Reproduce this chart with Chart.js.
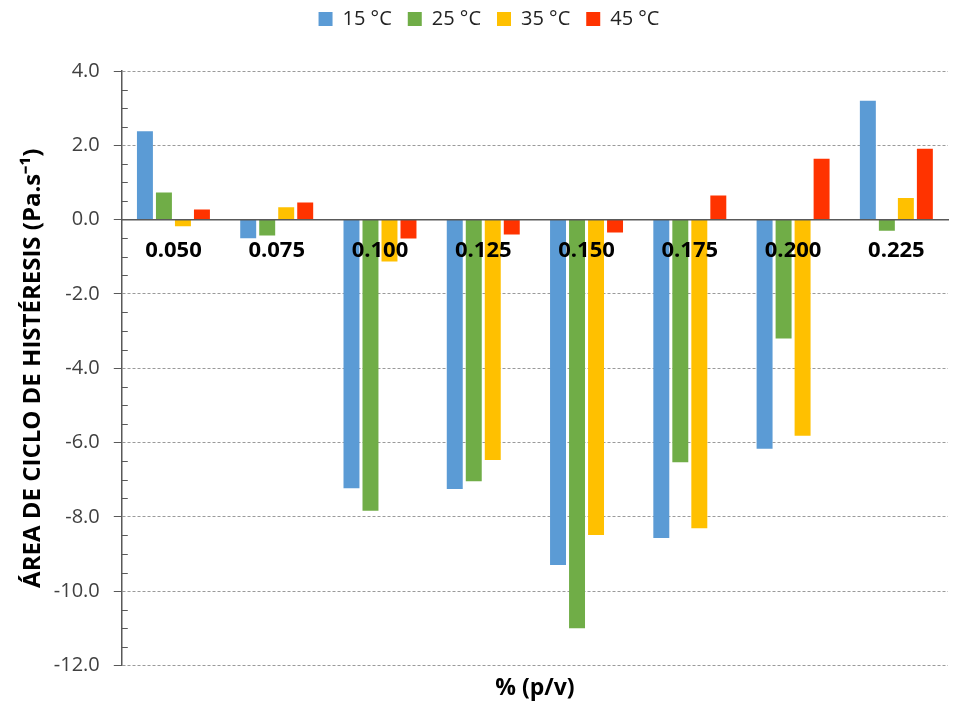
<!DOCTYPE html>
<html>
<head>
<meta charset="utf-8">
<script src="https://cdn.jsdelivr.net/npm/chart.js@4.4.1/dist/chart.umd.min.js"></script>
<style>
html,body{margin:0;padding:0;background:#fff;}
#wrap{width:958px;height:704px;position:relative;}
</style>
</head>
<body>
<div id="wrap"><canvas id="c" width="958" height="704"></canvas></div>
<script>
const categories = ['0.050','0.075','0.100','0.125','0.150','0.175','0.200','0.225'];
const seriesNames = ['15 °C','25 °C','35 °C','45 °C'];
const s15 = [2.38, -0.50, -7.23, -7.25, -9.30, -8.57, -6.17, 3.20];
const s25 = [0.73, -0.43, -7.84, -7.04, -11.00, -6.53, -3.20, -0.30];
const s35 = [-0.18, 0.33, -1.13, -6.47, -8.49, -8.31, -5.82, 0.58];
const s45 = [0.27, 0.46, -0.51, -0.40, -0.35, 0.65, 1.64, 1.91];
const yMin = -12, yMax = 4, yMajorStep = 2, yMinorStep = 0.5;

const colors = ['#5B9BD5','#70AD47','#FFC000','#FF3300'];
const seriesValues = [s15, s25, s35, s45];

const minorTicks = {
  id: 'minorTicks',
  afterDraw(chart) {
    const y = chart.scales.y;
    const ctx = chart.ctx;
    ctx.save();
    ctx.strokeStyle = '#595959';
    ctx.lineWidth = 1;
    for (let v = yMin; v <= yMax + 1e-9; v += yMinorStep) {
      if (Math.abs(v % yMajorStep) < 1e-9) continue;
      const py = Math.round(y.getPixelForValue(v)) + 0.5;
      ctx.beginPath();
      ctx.moveTo(y.right, py);
      ctx.lineTo(y.right + 6, py);
      ctx.stroke();
    }
    ctx.restore();
  }
};

const legendMargin = {
  id: 'legendMargin',
  beforeInit(chart) {
    const lg = chart.legend;
    if (!lg) return;
    const origFit = lg.fit;
    lg.fit = function () {
      origFit.call(this);
      this.height += 32;
    };
  }
};

new Chart(document.getElementById('c'), {
  type: 'bar',
  data: {
    labels: categories,
    datasets: seriesNames.map((n, i) => ({
      label: n,
      data: seriesValues[i],
      backgroundColor: colors[i],
      borderWidth: 0,
      categoryPercentage: 0.736,
      barPercentage: 0.84
    }))
  },
  options: {
    responsive: false,
    animation: false,
    layout: { padding: { left: 30, right: 10, top: -7, bottom: 1 } },
    plugins: {
      legend: {
        position: 'top',
        labels: {
          boxWidth: 14, boxHeight: 14,
          padding: 16,
          color: '#222',
          font: { family: 'Open Sans', size: 20 }
        }
      },
      tooltip: { enabled: false }
    },
    scales: {
      x: {
        position: { y: 0 },
        grid: { display: false },
        border: { display: true, color: '#595959', width: 1.5, z: 1 },
        ticks: {
          z: 1,
          color: '#000',
          padding: 10,
          font: { family: 'Open Sans', size: 22, weight: 'bold' }
        }
      },
      x2: {
        type: 'category',
        position: 'bottom',
        grid: { display: false },
        border: { display: false },
        ticks: { display: false },
        title: {
          display: true,
          text: '% (p/v)',
          color: '#000',
          padding: { top: 1, bottom: 1 },
          font: { family: 'Open Sans', size: 23, weight: 'bold' }
        }
      },
      y: {
        min: yMin, max: yMax,
        ticks: {
          stepSize: yMajorStep,
          padding: 14,
          color: '#404040',
          font: { family: 'Open Sans', size: 20 },
          callback: v => Number(v).toFixed(1)
        },
        grid: {
          color: '#9a9a9a',
          tickColor: '#595959',
          tickLength: 8,
          lineWidth: 1
        },
        border: { display: true, color: '#595959', width: 1.5, dash: [3, 2] },
        title: {
          display: true,
          text: 'ÁREA DE CICLO DE HISTÉRESIS (Pa.s⁻¹)',
          color: '#000',
          padding: { top: -11, bottom: -8 },
          font: { family: 'Open Sans', size: 24, weight: 'bold' }
        }
      }
    }
  },
  plugins: [minorTicks, legendMargin]
});
</script>
</body>
</html>
